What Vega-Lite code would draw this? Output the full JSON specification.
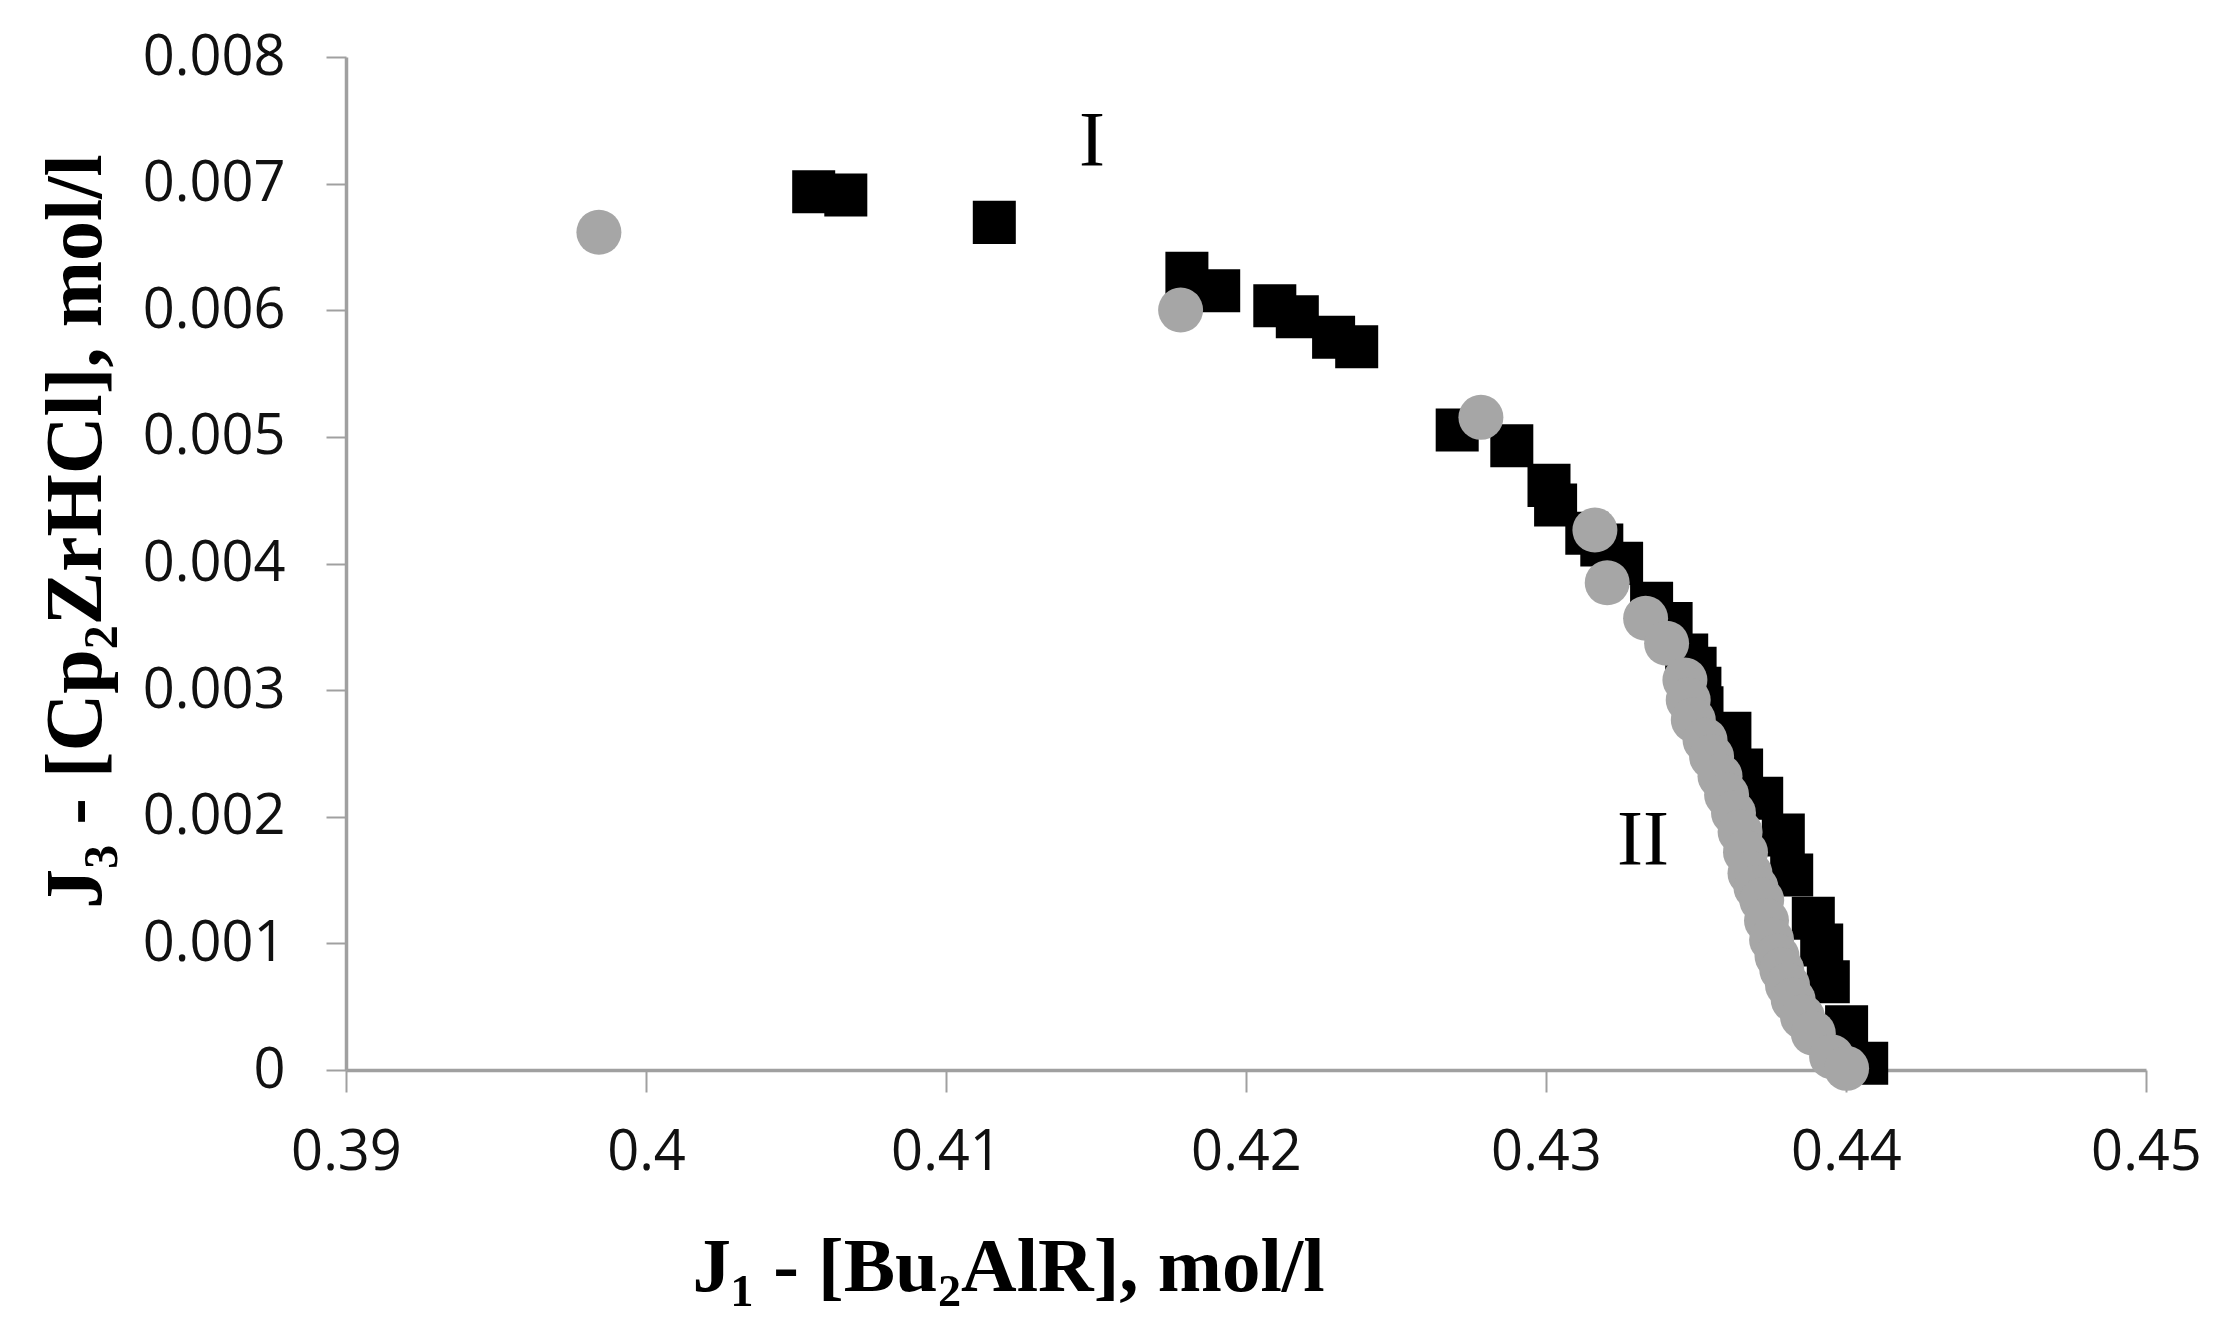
{
  "$schema": "https://vega.github.io/schema/vega-lite/v6.json",
  "width": 1800,
  "height": 1013,
  "autosize": {"type": "none"},
  "padding": {"left": 346, "top": 57, "right": 89, "bottom": 259},
  "background": "white",
  "config": {"view": {"stroke": null}},
  "datasets": {
    "seriesI": [
      {"x": 0.40559, "y": 0.006936},
      {"x": 0.40666, "y": 0.006910},
      {"x": 0.41161, "y": 0.006694},
      {"x": 0.41803, "y": 0.006292},
      {"x": 0.41909, "y": 0.006154},
      {"x": 0.42096, "y": 0.006036},
      {"x": 0.42171, "y": 0.005949},
      {"x": 0.42292, "y": 0.005786},
      {"x": 0.42369, "y": 0.005712},
      {"x": 0.42704, "y": 0.005054},
      {"x": 0.42886, "y": 0.004930},
      {"x": 0.43010, "y": 0.004617},
      {"x": 0.43032, "y": 0.004462},
      {"x": 0.43136, "y": 0.004238},
      {"x": 0.43186, "y": 0.004146},
      {"x": 0.43252, "y": 0.004001},
      {"x": 0.43352, "y": 0.003686},
      {"x": 0.43417, "y": 0.003527},
      {"x": 0.43469, "y": 0.003277},
      {"x": 0.43497, "y": 0.003172},
      {"x": 0.43513, "y": 0.003014},
      {"x": 0.43520, "y": 0.002860},
      {"x": 0.43613, "y": 0.002659},
      {"x": 0.43652, "y": 0.002369},
      {"x": 0.43719, "y": 0.002146},
      {"x": 0.43791, "y": 0.001856},
      {"x": 0.43819, "y": 0.001540},
      {"x": 0.43891, "y": 0.001198},
      {"x": 0.43919, "y": 0.000987},
      {"x": 0.43941, "y": 0.000697},
      {"x": 0.44002, "y": 0.000342},
      {"x": 0.44069, "y": 0.000053}
    ],
    "seriesII": [
      {"x": 0.39843, "y": 0.006616},
      {"x": 0.41782, "y": 0.006002},
      {"x": 0.42783, "y": 0.005154},
      {"x": 0.43163, "y": 0.004264},
      {"x": 0.43204, "y": 0.003848},
      {"x": 0.43332, "y": 0.003567},
      {"x": 0.43402, "y": 0.003370},
      {"x": 0.43463, "y": 0.003080},
      {"x": 0.43474, "y": 0.002922},
      {"x": 0.43491, "y": 0.002764},
      {"x": 0.43530, "y": 0.002606},
      {"x": 0.43552, "y": 0.002474},
      {"x": 0.43580, "y": 0.002320},
      {"x": 0.43602, "y": 0.002172},
      {"x": 0.43625, "y": 0.002030},
      {"x": 0.43647, "y": 0.001880},
      {"x": 0.43665, "y": 0.001720},
      {"x": 0.43680, "y": 0.001553},
      {"x": 0.43700, "y": 0.001440},
      {"x": 0.43719, "y": 0.001342},
      {"x": 0.43735, "y": 0.001180},
      {"x": 0.43752, "y": 0.001027},
      {"x": 0.43770, "y": 0.000900},
      {"x": 0.43786, "y": 0.000790},
      {"x": 0.43805, "y": 0.000670},
      {"x": 0.43824, "y": 0.000553},
      {"x": 0.43855, "y": 0.000420},
      {"x": 0.43891, "y": 0.000290},
      {"x": 0.43952, "y": 0.000105},
      {"x": 0.44002, "y": 0.000013}
    ],
    "labels": [
      {"x": 0.41487, "y": 0.00733, "label": "I"},
      {"x": 0.43323, "y": 0.001808, "label": "II"}
    ]
  },
  "encoding": {
    "x": {
      "field": "x",
      "type": "quantitative",
      "scale": {"domain": [0.39, 0.45], "zero": false, "nice": false},
      "axis": {
        "values": [0.39, 0.4, 0.41, 0.42, 0.43, 0.44, 0.45],
        "format": "~g",
        "grid": false,
        "domainColor": "#a0a0a0",
        "domainWidth": 3.5,
        "tickColor": "#a0a0a0",
        "tickWidth": 2,
        "tickSize": 22,
        "labelFont": "Open Sans",
        "labelFontSize": 56,
        "labelColor": "#111111",
        "labelPadding": 60,
        "labelBaseline": "middle",
        "labelFlush": false,
        "labelOverlap": false,
        "title": "J₁ - [Bu₂AlR], mol/l",
        "titleFont": "Liberation Serif",
        "titleFontWeight": "bold",
        "titleFontSize": 77,
        "titleColor": "#000000",
        "titleX": 662,
        "titleY": 220,
        "titleAlign": "center",
        "titleBaseline": "alphabetic"
      }
    },
    "y": {
      "field": "y",
      "type": "quantitative",
      "scale": {"domain": [0, 0.008], "nice": false},
      "axis": {
        "values": [0, 0.001, 0.002, 0.003, 0.004, 0.005, 0.006, 0.007, 0.008],
        "format": "~g",
        "grid": false,
        "domainColor": "#a0a0a0",
        "domainWidth": 3.5,
        "tickColor": "#a0a0a0",
        "tickWidth": 2,
        "tickSize": 20,
        "labelFont": "Open Sans",
        "labelFontSize": 56,
        "labelColor": "#111111",
        "labelPadding": 41,
        "labelFlush": false,
        "labelOverlap": false,
        "title": "J₃ - [Cp₂ZrHCl], mol/l",
        "titleFont": "Liberation Serif",
        "titleFontWeight": "bold",
        "titleFontSize": 80,
        "titleColor": "#000000",
        "titleAngle": -90,
        "titleX": -246,
        "titleY": 474,
        "titleAlign": "center",
        "titleBaseline": "alphabetic"
      }
    }
  },
  "layer": [
    {
      "data": {"name": "seriesI"},
      "mark": {"type": "square", "size": 1850, "color": "#000000", "opacity": 1, "filled": true}
    },
    {
      "data": {"name": "seriesII"},
      "mark": {"type": "circle", "size": 2025, "color": "#a6a6a6", "opacity": 1}
    },
    {
      "data": {"name": "labels"},
      "mark": {"type": "text", "font": "Liberation Serif", "fontSize": 78, "color": "#000000", "align": "center", "baseline": "middle"},
      "encoding": {"text": {"field": "label", "type": "nominal"}}
    }
  ]
}
